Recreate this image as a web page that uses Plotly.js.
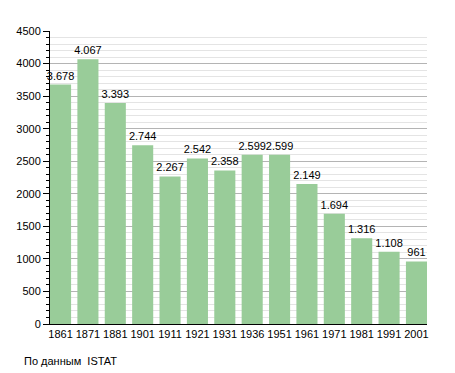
<!DOCTYPE html>
<html>
<head>
<meta charset="utf-8">
<script src="https://cdn.plot.ly/plotly-3.0.1.min.js"></script>
<style>html,body{margin:0;padding:0;background:#fff;}#chart{width:455px;height:373px;}</style>
</head>
<body>
<div id="chart"></div>
<script>
const years = ["1861","1871","1881","1901","1911","1921","1931","1936","1951","1961","1971","1981","1991","2001"];
const population = [3678,4067,3393,2744,2267,2542,2358,2599,2599,2149,1694,1316,1108,961];
const labels = ["3.678","4.067","3.393","2.744","2.267","2.542","2.358","2.599","2.599","2.149","1.694","1.316","1.108","961"];
const yTicks = [0,500,1000,1500,2000,2500,3000,3500,4000,4500];
const sourceNote = "По данным  ISTAT";

const bw = 0.77;
const trace = {
  type: 'bar',
  x: years.map((_, i) => i),
  y: population,
  text: labels,
  textposition: 'outside',
  constraintext: 'none',
  textfont: {family: 'Liberation Sans, Arial, sans-serif', size: 11, color: '#000'},
  cliponaxis: false,
  width: bw,
  marker: {color: '#99cc99', line: {width: 0}},
  hoverinfo: 'none'
};
const layout = {
  width: 455, height: 373,
  margin: {l: 50, r: 28, t: 31, b: 49},
  paper_bgcolor: '#fff', plot_bgcolor: '#fff',
  showlegend: false,
  font: {family: 'Liberation Sans, Arial, sans-serif', size: 11, color: '#000'},
  xaxis: {
    type: 'linear',
    range: [-bw/2, years.length - 1 + bw/2],
    tickmode: 'array', tickvals: years.map((_, i) => i), ticktext: years,
    showgrid: false, zeroline: false,
    showline: true, linecolor: '#000', linewidth: 1,
    ticks: '', tickfont: {size: 11}
  },
  yaxis: {
    range: [0, 4500],
    tickmode: 'array', tickvals: yTicks,
    showgrid: true, gridcolor: '#b4b4b4', gridwidth: 1,
    zeroline: false,
    showline: true, linecolor: '#000', linewidth: 1,
    ticks: 'outside', ticklen: 6, tickcolor: '#000',
    tickfont: {size: 11},
    minor: {dtick: 100, showgrid: true, gridcolor: '#e4e4e4', gridwidth: 1, ticks: 'outside', ticklen: 3, tickcolor: '#000'}
  },
  annotations: [{
    text: sourceNote, xref: 'paper', yref: 'paper',
    x: -0.074, y: -0.126, xanchor: 'left', yanchor: 'middle',
    showarrow: false, font: {size: 11, color: '#000'}
  }]
};
Plotly.newPlot('chart', [trace], layout, {staticPlot: true, displayModeBar: false});
</script>
</body>
</html>
